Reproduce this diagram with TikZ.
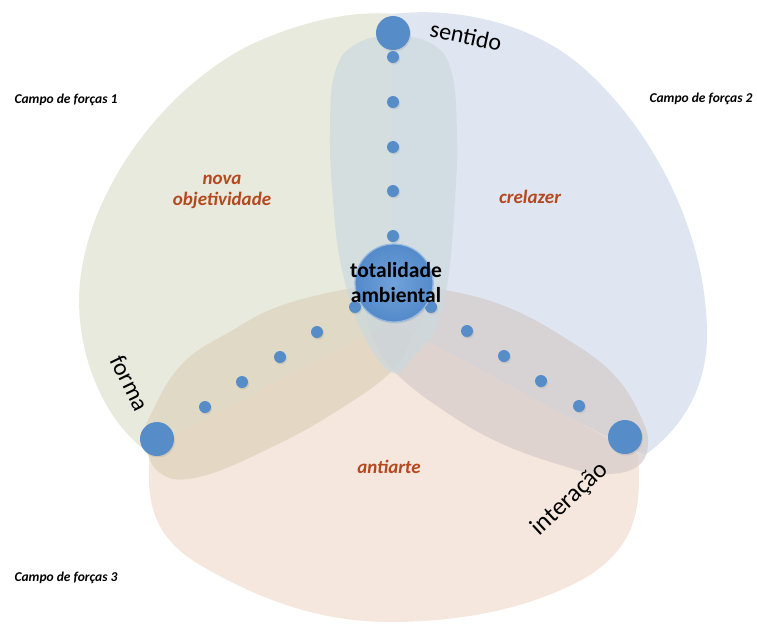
\documentclass[tikz,border=0pt]{standalone}
\usepackage{fontspec}
\setmainfont{Carlito}
\usetikzlibrary{shadows}
\definecolor{fieldgreen}{RGB}{232,234,222}
\definecolor{fieldblue}{RGB}{223,230,242}
\definecolor{fieldpeach}{RGB}{245,231,221}
\definecolor{armtan}{RGB}{221,210,187}
\definecolor{armmauve}{RGB}{213,203,202}
\definecolor{armteal}{RGB}{204,217,222}
\definecolor{dotblue}{RGB}{86,141,200}
\definecolor{rimblue}{RGB}{150,186,226}
\definecolor{rust}{RGB}{180,72,30}
\begin{document}
\begin{tikzpicture}[x=1pt,y=-1pt,
  arm/.style={draw=none,fill opacity=0.7},
  dotshadow/.style={drop shadow={opacity=0.2,shadow xshift=1pt,shadow yshift=-1.5pt}},
  dot/.style={circle,fill=dotblue,inner sep=0pt,minimum size=12pt,dotshadow},
  bigdot/.style={circle,fill=dotblue,inner sep=0pt,minimum size=34pt,dotshadow},
  campo/.style={font=\fontsize{13.5}{15}\selectfont\bfseries\itshape},
  fieldname/.style={font=\fontsize{19}{21}\selectfont\bfseries\itshape,text=rust,align=center},
  pole/.style={font=\fontsize{24}{28}\selectfont,inner sep=0pt}
]
\useasboundingbox (0,0) rectangle (757,624);

% three force fields
\fill[fieldgreen] (395,14) .. controls (350,10) and (300,22) .. (250,45)
  .. controls (160,90) and (80,200) .. (79,300)
  .. controls (79,360) and (105,420) .. (145,450)
  -- (396,330) -- cycle;
\fill[fieldblue] (392,14) .. controls (440,8) and (520,15) .. (580,65)
  .. controls (650,125) and (707,230) .. (707,335)
  .. controls (707,390) and (680,430) .. (645,455)
  -- (392,330) -- cycle;
\fill[fieldpeach] (150,447) .. controls (146,500) and (150,535) .. (200,565)
  .. controls (260,600) and (320,622) .. (390,622)
  .. controls (470,622) and (540,605) .. (590,575)
  .. controls (635,545) and (642,510) .. (638,455)
  -- (393,322) -- cycle;

% three arms towards the centre
\fill[armtan,arm] plot[smooth cycle,tension=0.7] coordinates {(145,440) (152,412) (183,363) (233,330) (280,306) (347,289) (400,283) (426,298) (412,335) (393,370) (337,411) (268,449) (199,477) (160,473)};
\fill[armmauve,arm] plot[smooth cycle,tension=0.7] coordinates {(366,298) (388,283) (440,289) (507,307) (573,343) (615,376) (640,415) (648,445) (635,468) (600,474) (567,467) (500,443) (440,408) (393,370) (372,335)};
\fill[armteal,arm] plot[smooth cycle,tension=0.7] coordinates {(393,373) (364,336) (342,270) (333,200) (330,130) (335,72) (356,44) (393,36) (430,43) (451,70) (457,133) (455,200) (448,280) (436,328) (414,356)};

% chain towards sentido
\node[dot] (s5) at (393,57) {};
\node[dot] (s4) at (393,102) {};
\node[dot] (s3) at (393,147) {};
\node[dot] (s2) at (393,191) {};
\node[dot] (s1) at (393,236) {};
\node[bigdot] (sentido) at (393,33) {};
% chain towards forma
\node[dot] (f1) at (355,307) {};
\node[dot] (f2) at (317,332) {};
\node[dot] (f3) at (280,357) {};
\node[dot] (f4) at (242,382) {};
\node[dot] (f5) at (205,407) {};
\node[bigdot] (forma) at (157,439) {};
% chain towards interação
\node[dot] (i1) at (431,307) {};
\node[dot] (i2) at (467,331) {};
\node[dot] (i3) at (504,356) {};
\node[dot] (i4) at (541,381) {};
\node[dot] (i5) at (579,406) {};
\node[bigdot] (interacao) at (625,437) {};

% centre
\node[circle,minimum size=78pt,inner sep=0pt,draw=rimblue,line width=1.2pt,
      inner color={rgb,255:red,112;green,162;blue,218},outer color={rgb,255:red,84;green,138;blue,202},
      drop shadow={opacity=0.2,shadow xshift=1pt,shadow yshift=-1.5pt}] (centro) at (394,283) {};
\node[align=center,font=\fontsize{21.5}{25}\selectfont\bfseries] (centrolabel) at (396,283) {totalidade\\ambiental};

% pole labels
\node[pole,rotate=-12] (sentidolabel) at (466,36) {sentido};
\node[pole,rotate=-64] (formalabel) at (130,383) {forma};
\node[pole,rotate=43,font=\fontsize{25}{30}\selectfont] (interacaolabel) at (570,499) {interação};

% field names
\node[fieldname] (nova) at (222,192) {nova\\objetividade};
\node[fieldname] (crelazer) at (530,197) {crelazer};
\node[fieldname] (antiarte) at (389,467) {antiarte};

\node[campo] (campo1) at (66,100) {Campo de forças 1};
\node[campo] (campo2) at (701,99) {Campo de forças 2};
\node[campo] (campo3) at (66,578) {Campo de forças 3};
\end{tikzpicture}
\end{document}
